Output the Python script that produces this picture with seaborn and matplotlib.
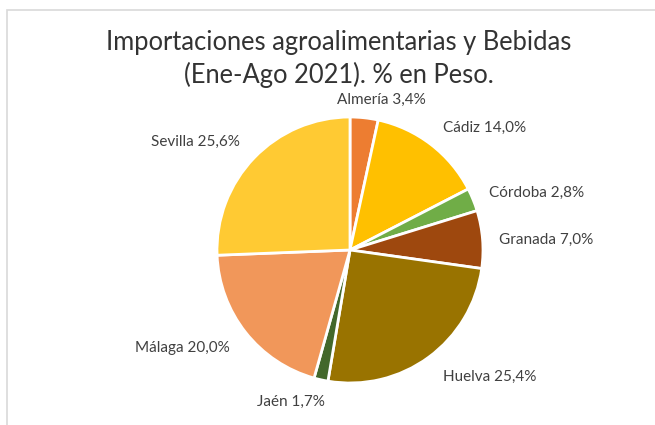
import numpy as np
import matplotlib
matplotlib.use("Agg")
import matplotlib.pyplot as plt
import seaborn as sns
from matplotlib.patches import Rectangle

# ===============================
# DATA
# ===============================
provincias = ["Almería", "Cádiz", "Córdoba", "Granada", "Huelva", "Jaén", "Málaga", "Sevilla"]
porcentajes = [3.4, 14.0, 2.8, 7.0, 25.4, 1.7, 20.0, 25.6]
colores = ["#ED7D31", "#FFC000", "#70AD47", "#9E480E", "#997300", "#43682B", "#F1975A", "#FFCA33"]

titulo = "Importaciones agroalimentarias y Bebidas\n(Ene-Ago 2021). % en Peso."

# label positions (pixels in the 655x425 image)
label_px = {
    "Almería": (381, 100),
    "Cádiz": (485, 128),
    "Córdoba": (537, 193),
    "Granada": (546, 240),
    "Huelva": (490, 377),
    "Jaén": (291, 402),
    "Málaga": (182, 348),
    "Sevilla": (195, 142),
}

# ===============================
# STYLE
# ===============================
sns.set_theme(style="white")
plt.rcParams["font.family"] = ["Lato", "DejaVu Sans"]

W, H = 655, 425
CX, CY, R = 350, 250, 133

fig = plt.figure(figsize=(W / 100, H / 100), dpi=100)
fig.patch.set_facecolor("white")

# chart frame
fig.patches.append(Rectangle((7 / W, -0.05), 1.1, 1 - 10 / H + 0.05,
                             transform=fig.transFigure, fill=False,
                             edgecolor="#D9D9D9", linewidth=1.2))

ax = fig.add_axes([0, 0, 1, 1])
ax.pie(porcentajes, colors=colores, startangle=90, counterclock=False,
       radius=1, wedgeprops=dict(edgecolor="white", linewidth=2))
ax.set_xlim(-CX / R, (W - CX) / R)
ax.set_ylim(-(H - CY) / R, CY / R)
ax.set_aspect("auto")
ax.axis("off")

def to_data(px, py):
    return (px - CX) / R, (CY - py) / R

for prov, val in zip(provincias, porcentajes):
    x, y = to_data(*label_px[prov])
    txt = f"{prov} {val:.1f}%".replace(".", ",")
    ax.text(x, y, txt, ha="center", va="center", fontsize=11, color="#404040")

fig.text(339 / W, 1 - 59 / H, titulo, ha="center", va="center",
         fontsize=18.4, color="#333333", linespacing=1.3)

fig.savefig("out.png", dpi=100, facecolor="white")
